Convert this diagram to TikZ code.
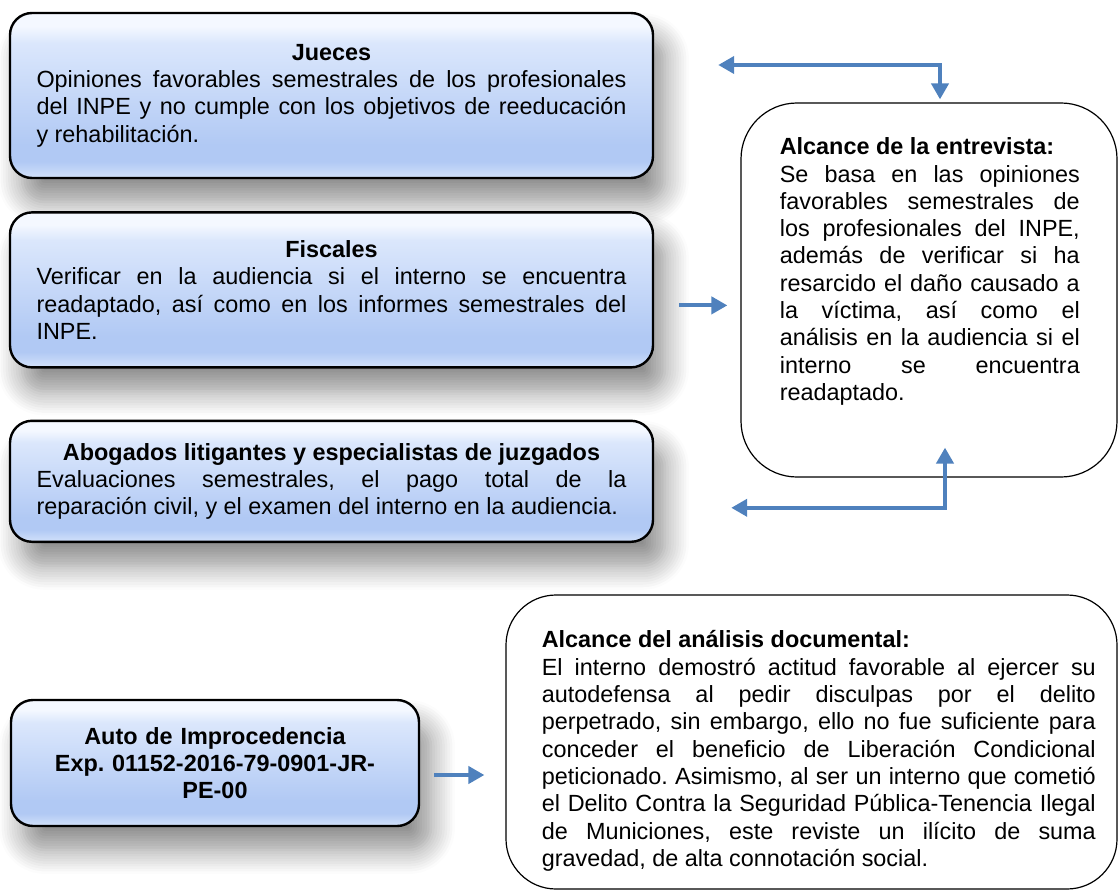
\documentclass[tikz,border=0pt]{standalone}
\usepackage{fontspec}
\setmainfont{Liberation Sans}
\usetikzlibrary{arrows.meta,positioning,calc,shadows.blur}
\definecolor{Steel}{HTML}{4F81BD}
\definecolor{GlossTop}{HTML}{F4F8FF}
\definecolor{GlossHigh}{HTML}{DBE7FC}
\definecolor{GlossLow}{HTML}{B1C9F4}
\definecolor{GlossRim}{HTML}{D3E2FA}
\pgfdeclareverticalshading{glossblue}{100bp}{color(0bp)=(GlossRim); color(25bp)=(GlossRim); color(30bp)=(GlossLow); color(35bp)=(GlossLow); color(66bp)=(GlossHigh); color(71bp)=(GlossTop); color(75bp)=(GlossTop); color(100bp)=(GlossTop)}
\setlength{\parindent}{0pt}
\frenchspacing
\tolerance=10000
\hyphenpenalty=10000
\exhyphenpenalty=10000
\newcommand{\boxhead}[1]{{\centering\bfseries #1\par}}
\tikzset{
    every node/.style={font=\fontsize{11.7}{13.65}\selectfont},
    glossbox/.style={
        draw=black, line width=1.2pt, rounded corners=11pt,
        shade, shading=glossblue,
        blur shadow={shadow xshift=6pt, shadow yshift=-12pt, shadow blur radius=12pt, shadow blur steps=10, shadow opacity=45},
        minimum width=321.5pt, text width=295pt,
        align=justify, inner sep=0pt
    },
    scopebox/.style={
        draw=black, line width=0.6pt, fill=white, rounded corners=#1
    },
    bodytext/.style={
        anchor=north west, inner sep=0pt, align=justify
    },
    link/.style={
        draw=Steel, line width=2pt, >={Triangle[length=8pt,width=8.5pt]}, ->
    },
    dlink/.style={
        link, <->
    },
}
\begin{document}
\begin{tikzpicture}[x=0.5pt, y=-0.5pt]
    \useasboundingbox (0,0) rectangle (1118,893);

    % Left column
    \node[glossbox, minimum height=82.5pt] (jueces) at (331.5,95.5) {\boxhead{Jueces}Opiniones favorables semestrales de los profesionales\linebreak del INPE y no cumple con los objetivos de reeducación\linebreak y rehabilitación.};
    \node[glossbox, minimum height=77.5pt, below=16pt of jueces] (fiscales) {\boxhead{Fiscales}Verificar en la audiencia si el interno se encuentra\linebreak readaptado, así como en los informes semestrales del\linebreak INPE.};
    \node[glossbox, minimum height=60.5pt, below=25.5pt of fiscales] (abogados) {\boxhead{Abogados litigantes y especialistas de juzgados}Evaluaciones semestrales, el pago total de la\linebreak reparación civil, y el examen del interno en la audiencia.};
    \node[glossbox, minimum width=204pt, minimum height=63pt, text width=170pt, align=center, font=\fontsize{11.7}{13.65}\selectfont\bfseries] (auto) at (215,763) {Auto de Improcedencia\\Exp. 01152-2016-79-0901-JR-\\PE-00};

    % Right column
    \node[scopebox=28pt, minimum width=188pt, minimum height=187pt] (entrevista) at (929,290) {};
    \node[bodytext, text width=150pt] (entrevistatxt) at ($(entrevista.north west)+(39,35)$) {\textbf{Alcance de la entrevista:}\par Se basa en las opiniones\linebreak favorables semestrales de\linebreak los profesionales del INPE,\linebreak además de verificar si ha\linebreak resarcido el daño causado a\linebreak la víctima, así como el\linebreak análisis en la audiencia si el\linebreak interno se encuentra\linebreak readaptado.};
    \node[scopebox=25pt, minimum width=305.5pt, minimum height=147pt] (analisis) at (811.5,742) {};
    \node[bodytext, text width=277pt] (analisistxt) at ($(analisis.north west)+(36,36)$) {\textbf{Alcance del análisis documental:}\par El interno demostró actitud favorable al ejercer su\linebreak autodefensa al pedir disculpas por el delito\linebreak perpetrado, sin embargo, ello no fue suficiente para\linebreak conceder el beneficio de Liberación Condicional\linebreak peticionado. Asimismo, al ser un interno que cometió\linebreak el Delito Contra la Seguridad Pública-Tenencia Ilegal\linebreak de Municiones, este reviste un ilícito de suma\linebreak gravedad, de alta connotación social.};

    % Arrow ends
    \coordinate (fiscout) at ($(fiscales.east)+(25,15.5)$);
    \coordinate (fiscin) at ($(entrevista.west)+(-13,0)$);
    \coordinate (autoout) at ($(auto.east)+(14,12)$);
    \coordinate (autoin) at ($(analisis.west)+(-21,0)$);

    % Arrows
    \draw[dlink] ($(jueces.east)+(64,-30.5)$) -| ($(entrevista.north)+(11,-3)$);
    \draw[link] (fiscout) -- (fiscout -| fiscin);
    \draw[dlink] ($(abogados.east)+(77,26.5)$) -| ($(entrevista.south)+(16,-30)$);
    \draw[link] (autoout) -- (autoout -| autoin);
\end{tikzpicture}
\end{document}
